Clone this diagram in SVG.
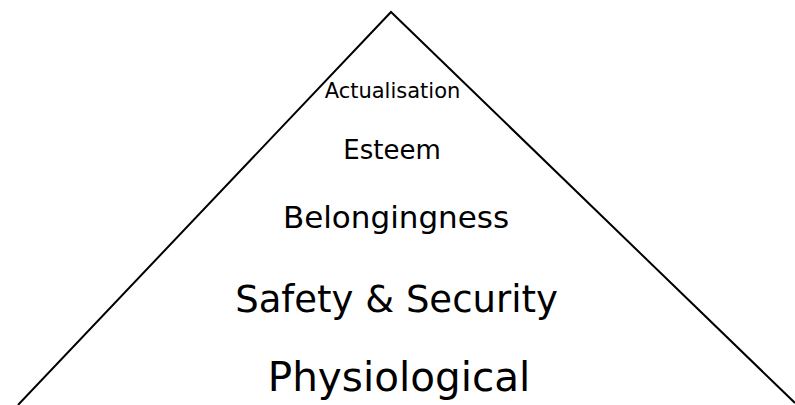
<svg xmlns="http://www.w3.org/2000/svg" width="795" height="405" viewBox="0 0 795 405">
  <style>
    .edge { fill: none; stroke: #000; stroke-width: 2; }
    .lvl { font-family: "DejaVu Sans", Verdana, sans-serif; fill: #000; text-anchor: middle; }
  </style>
  <rect width="795" height="405" fill="#fff"/>
  <!-- pyramid outline -->
  <g id="connectors">
    <polyline class="edge" points="18,405 391,12 795,403"/>
  </g>
  <!-- levels, top to bottom -->
  <g id="actualisation"><text class="lvl" x="392.5" y="98" font-size="21">Actualisation</text></g>
  <g id="esteem"><text class="lvl" x="392" y="159" font-size="26">Esteem</text></g>
  <g id="belongingness"><text class="lvl" x="396" y="228" font-size="31">Belongingness</text></g>
  <g id="safety"><text class="lvl" x="396.5" y="312" font-size="37">Safety &amp; Security</text></g>
  <g id="physiological"><text class="lvl" x="399" y="391" font-size="40.5">Physiological</text></g>
</svg>
